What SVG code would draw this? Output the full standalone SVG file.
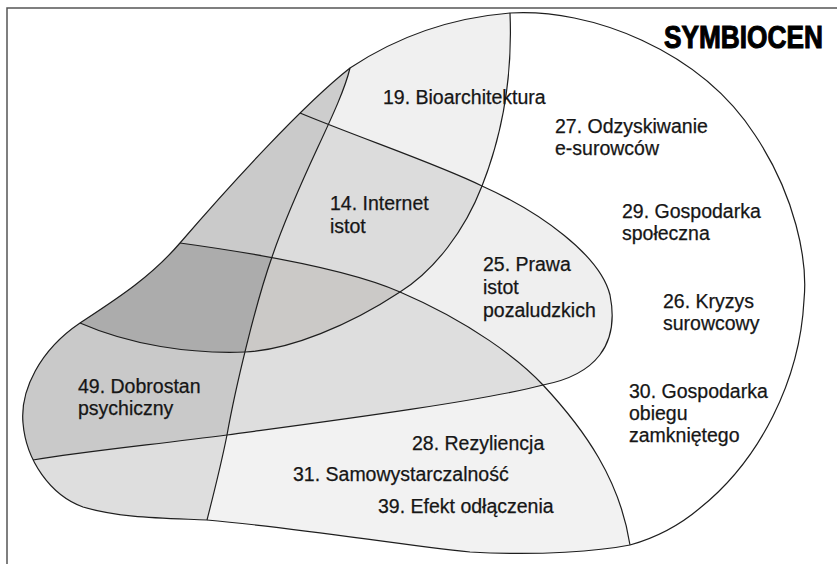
<svg xmlns="http://www.w3.org/2000/svg" width="837" height="564" viewBox="0 0 837 564">
<style>
.lbl{font-family:"Liberation Sans",Arial,Helvetica,sans-serif;font-size:19.5px;fill:#161616;stroke:#161616;stroke-width:0.25}
.ln{fill:none;stroke:#1e1e1e;stroke-width:1.2;stroke-linejoin:round}
.title{font-family:"Liberation Sans",Arial,sans-serif;font-weight:bold;font-size:30px;fill:#000;stroke:#000;stroke-width:1}
</style>
<defs>
<clipPath id="cU"><path d="M510,13 C450,18 395,38 350,68 C303,105 230,185 180,243 C150,278 115,300 80,323 C40,350 20,390 23,423 C26,460 50,495 83,507 C120,518 160,518 207,520 C300,528 400,545 470,552 C540,556 600,551 630,545 C655,538 680,525 700,508 C760,460 800,380 804,300 C808,260 795,195 755,135 C700,50 590,8 510,13 Z"/></clipPath>
<clipPath id="cA"><path d="M80,323 C115,300 150,278 180,243 C230,185 303,105 350,68 C395,38 450,18 510,13 C512,60 508,120 482,186 C465,230 435,270 400,292 C350,325 290,350 245,352 C190,354 130,345 80,323 Z"/></clipPath>
<clipPath id="cB"><path d="M300,113 C360,138 440,165 482,186 C540,212 600,255 610,295 C620,345 595,375 543,385 C480,402 300,425 227,435 C150,445 80,452 33,460 L0,470 L0,113 Z"/></clipPath>
<clipPath id="cC"><path d="M180,243 C260,254 350,270 400,292 C470,322 520,360 543,385 C585,430 620,480 630,545 L640,600 L0,600 L0,243 Z"/></clipPath>
<clipPath id="cD"><path d="M350,68 C340,110 300,175 272,257 C255,305 235,390 227,435 C220,470 212,500 207,520 L200,600 L0,600 L0,0 L350,0 Z"/></clipPath>
</defs>
<rect width="837" height="564" fill="#fff"/>
<path d="M7,564 L7,8 L837,8" fill="none" stroke="#555" stroke-width="1.5"/>

<g id="regions" clip-path="url(#cU)">
  <g id="bioarchitektura" clip-path="url(#cA)"><rect width="837" height="564" fill="#f0f0f0"/></g>
  <g id="prawa-istot" clip-path="url(#cB)"><rect width="837" height="564" fill="#efefef"/></g>
  <g id="rezyliencja" clip-path="url(#cC)"><rect width="837" height="564" fill="#f2f2f2"/></g>
  <g id="internet-istot" clip-path="url(#cA)"><g clip-path="url(#cB)"><rect width="837" height="564" fill="#dcdcdc"/></g></g>
  <g id="bc" clip-path="url(#cB)"><g clip-path="url(#cC)"><rect width="837" height="564" fill="#dedede"/></g></g>
  <g id="cd" clip-path="url(#cC)"><g clip-path="url(#cD)"><rect width="837" height="564" fill="#dedede"/></g></g>
  <g id="ad" clip-path="url(#cA)"><g clip-path="url(#cD)"><rect width="837" height="564" fill="#cdcdcd"/></g></g>
  <g id="abc" clip-path="url(#cA)"><g clip-path="url(#cB)"><g clip-path="url(#cC)"><rect width="837" height="564" fill="#cbc9c7"/></g></g></g>
  <g id="abd" clip-path="url(#cA)"><g clip-path="url(#cB)"><g clip-path="url(#cD)"><rect width="837" height="564" fill="#cacaca"/></g></g></g>
  <g id="dobrostan" clip-path="url(#cB)"><g clip-path="url(#cC)"><g clip-path="url(#cD)"><rect width="837" height="564" fill="#c9c9c9"/></g></g></g>
  <g id="abcd" clip-path="url(#cA)"><g clip-path="url(#cB)"><g clip-path="url(#cC)"><g clip-path="url(#cD)"><rect width="837" height="564" fill="#acacac"/></g></g></g></g>
</g>

<g id="connectors">
  <path class="ln" d="M510,13 C450,18 395,38 350,68 C303,105 230,185 180,243 C150,278 115,300 80,323 C40,350 20,390 23,423 C26,460 50,495 83,507 C120,518 160,518 207,520 C300,528 400,545 470,552 C540,556 600,551 630,545 C655,538 680,525 700,508 C760,460 800,380 804,300 C808,260 795,195 755,135 C700,50 590,8 510,13 Z"/>
  <path class="ln" d="M510,13 C512,60 508,120 482,186 C465,230 435,270 400,292 C350,325 290,350 245,352 C190,354 130,345 80,323"/>
  <path class="ln" d="M300,113 C360,138 440,165 482,186 C540,212 600,255 610,295 C620,345 595,375 543,385 C480,402 300,425 227,435 C150,445 80,452 33,460"/>
  <path class="ln" d="M180,243 C260,254 350,270 400,292 C470,322 520,360 543,385 C585,430 620,480 630,545"/>
  <path class="ln" d="M350,68 C340,110 300,175 272,257 C255,305 235,390 227,435 C220,470 212,500 207,520"/>
</g>

<g id="labels">
  <text class="title" transform="translate(664,48) scale(0.875,1.02)" x="0" y="0">SYMBIOCEN</text>
  <text class="lbl" x="383" y="104">19. Bioarchitektura</text>
  <text class="lbl" x="555" y="133">27. Odzyskiwanie</text>
  <text class="lbl" x="555" y="155">e-surowców</text>
  <text class="lbl" x="330" y="210">14. Internet</text>
  <text class="lbl" x="330" y="233">istot</text>
  <text class="lbl" x="622" y="218">29. Gospodarka</text>
  <text class="lbl" x="622" y="240">społeczna</text>
  <text class="lbl" x="483" y="271">25. Prawa</text>
  <text class="lbl" x="483" y="294">istot</text>
  <text class="lbl" x="483" y="317">pozaludzkich</text>
  <text class="lbl" x="663" y="308">26. Kryzys</text>
  <text class="lbl" x="663" y="330">surowcowy</text>
  <text class="lbl" x="78" y="393">49. Dobrostan</text>
  <text class="lbl" x="78" y="415">psychiczny</text>
  <text class="lbl" x="629" y="398">30. Gospodarka</text>
  <text class="lbl" x="629" y="420">obiegu</text>
  <text class="lbl" x="629" y="442">zamkniętego</text>
  <text class="lbl" x="412" y="450">28. Rezyliencja</text>
  <text class="lbl" x="293" y="481">31. Samowystarczalność</text>
  <text class="lbl" x="378" y="513">39. Efekt odłączenia</text>
</g>
</svg>
